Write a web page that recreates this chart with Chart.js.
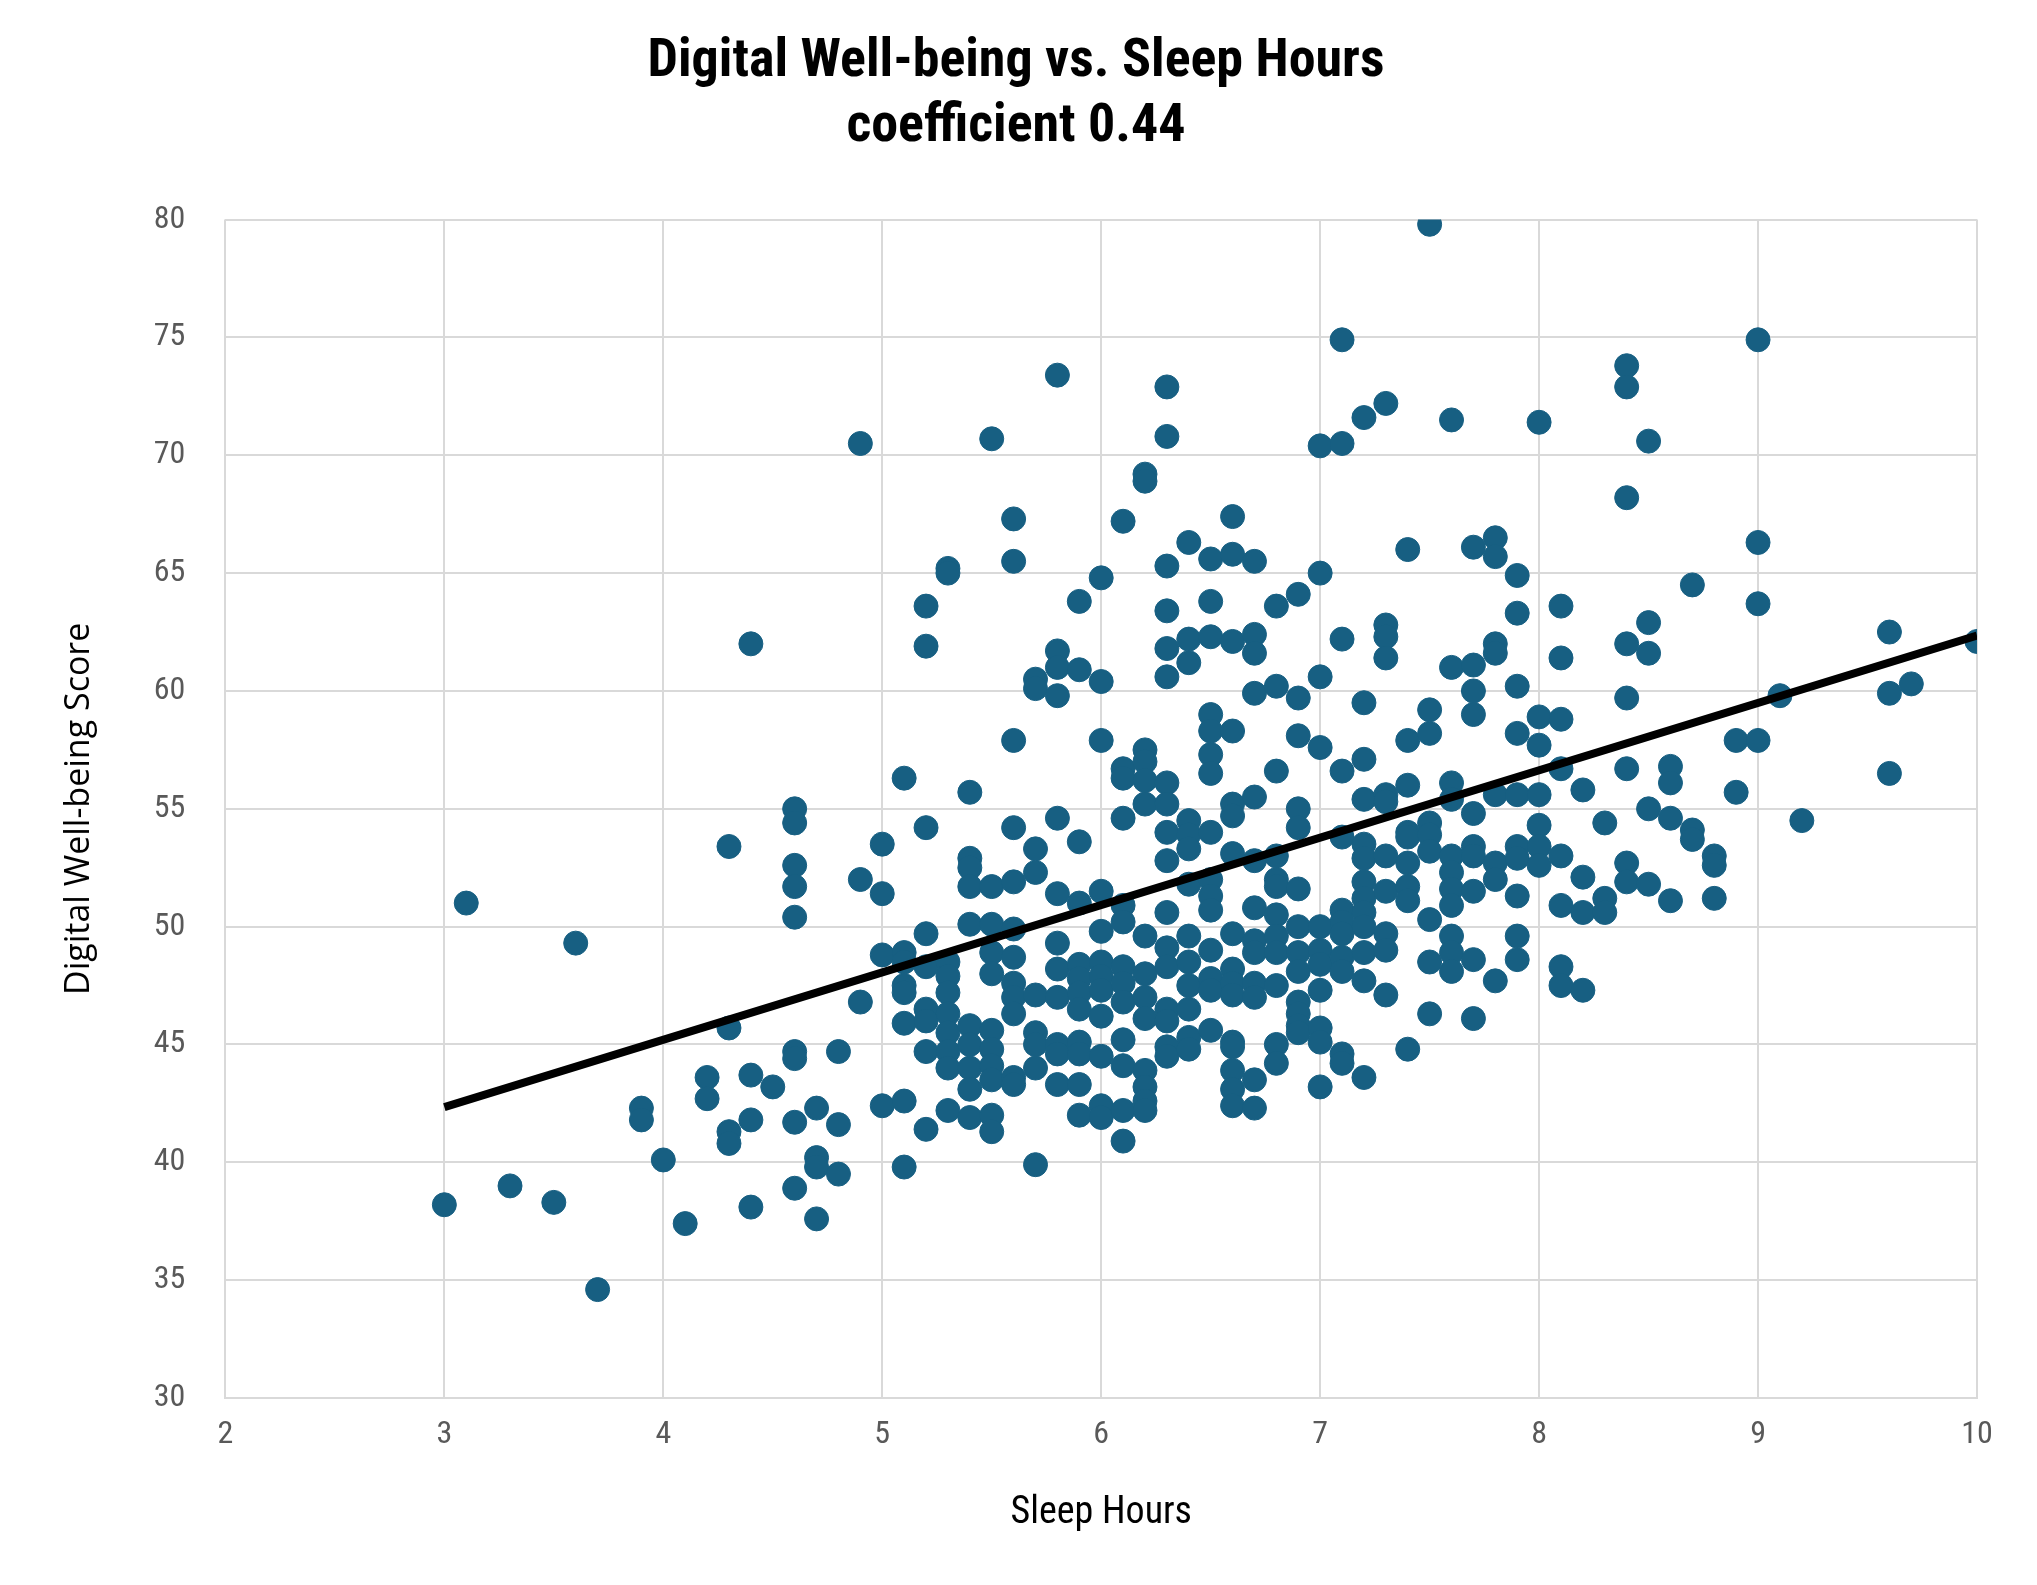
<!DOCTYPE html>
<html><head><meta charset="utf-8">
<script src="https://cdn.jsdelivr.net/npm/chart.js@4"></script>
<style>html,body{margin:0;padding:0;background:#fff}#wrap{width:2037px;height:1585px}</style>
</head><body><div id="wrap"><canvas id="c" width="2037" height="1585"></canvas></div>
<script>
const columns = {
"3.0":[38.2],"3.1":[51.0],"3.3":[39.0],"3.5":[38.3],"3.6":[49.3],"3.7":[34.6],
"3.9":[42.3,41.8],"4.0":[40.1],"4.1":[37.4],"4.2":[43.6,42.7],
"4.3":[53.4,45.7,41.3,40.8],"4.4":[62.0,43.7,41.8,38.1],"4.5":[43.2],
"4.6":[55.0,54.4,52.6,51.7,50.4,44.7,44.4,41.7,38.9],
"4.7":[42.3,40.2,39.8,37.6],"4.8":[44.7,41.6,39.5],"4.9":[70.5,52.0,46.8],
"5.0":[53.5,51.4,48.8,42.4],
"5.1":[56.3,48.9,48.5,47.5,47.2,45.9,42.6,39.8],
"5.2":[63.6,61.9,54.2,49.7,48.3,46.5,46.0,44.7,41.4],
"5.3":[65.2,65.0,48.5,47.9,47.2,46.3,45.5,44.7,44.0,42.2],
"5.4":[55.7,52.9,52.5,51.7,50.1,45.8,45.0,44.0,43.1,41.9],
"5.5":[70.7,51.7,50.1,48.9,48.0,45.6,44.8,44.1,43.5,42.0,41.3],
"5.6":[67.3,65.5,57.9,54.2,51.9,49.9,48.7,47.6,47.0,46.3,43.6,43.3],
"5.7":[60.5,60.1,53.3,52.3,47.1,45.5,45.0,44.0,39.9],
"5.8":[73.4,61.7,61.0,59.8,54.6,51.4,49.3,48.2,47.0,45.0,44.6,43.3],
"5.9":[63.8,60.9,53.6,51.0,48.4,47.8,47.2,46.5,45.1,44.6,43.3,42.0],
"6.0":[64.8,60.4,57.9,51.5,49.8,48.5,47.9,47.3,46.2,44.5,42.4,41.9],
"6.1":[67.2,56.7,56.3,54.6,50.9,50.2,48.3,47.6,46.8,45.2,44.1,42.2,40.9],
"6.2":[69.2,68.9,57.5,57.0,56.2,55.2,49.6,48.0,47.0,46.1,43.9,43.2,42.6,42.2],
"6.3":[72.9,70.8,65.3,63.4,61.8,60.6,56.1,55.2,54.0,52.8,50.6,49.1,48.3,46.5,46.0,44.9,44.5],
"6.4":[66.3,62.2,61.2,54.5,53.9,53.3,51.8,49.6,48.5,47.5,46.5,45.3,44.8],
"6.5":[65.6,63.8,62.3,59.0,58.3,57.3,56.5,54.0,52.0,51.3,50.7,49.0,47.8,47.3,45.6],
"6.6":[67.4,65.8,62.1,58.3,55.2,54.7,53.1,49.7,48.2,47.6,47.1,45.1,44.9,43.9,43.1,42.4],
"6.7":[65.5,62.4,61.6,59.9,55.5,52.8,50.8,49.4,48.9,47.6,47.0,43.5,42.3],
"6.8":[63.6,60.2,56.6,53.0,52.0,51.7,50.5,49.6,48.9,47.5,45.0,44.2],
"6.9":[64.1,59.7,58.1,55.0,54.2,51.6,50.0,48.9,48.1,46.8,46.3,45.8,45.5],
"7.0":[70.4,65.0,60.6,57.6,50.0,49.0,48.4,47.3,45.7,45.1,43.2],
"7.1":[74.9,70.5,62.2,56.6,53.8,50.7,50.2,49.7,48.7,48.1,44.6,44.2],
"7.2":[71.6,59.5,57.1,55.4,53.5,52.9,51.9,51.2,50.6,50.0,48.9,47.7,43.6],
"7.3":[72.2,62.8,62.3,61.4,55.6,55.3,53.0,51.5,49.7,49.0,47.1],
"7.4":[66.0,57.9,56.0,54.0,53.8,52.7,51.7,51.1,44.8],
"7.5":[79.8,59.2,58.2,54.4,53.9,53.2,50.3,48.5,46.3],
"7.6":[71.5,61.0,56.1,55.4,53.0,52.3,51.6,50.9,49.6,48.9,48.1],
"7.7":[66.1,61.1,60.0,59.0,54.8,53.4,53.0,51.5,48.6,46.1],
"7.8":[66.5,65.7,62.0,61.6,55.6,52.7,52.0,47.7],
"7.9":[64.9,63.3,60.2,58.2,55.6,53.4,52.9,51.3,49.6,48.6],
"8.0":[71.4,58.9,57.7,55.6,54.3,53.4,52.6],
"8.1":[63.6,61.4,58.8,56.7,53.0,50.9,48.3,47.5],
"8.2":[55.8,52.1,50.6,47.3],"8.3":[54.4,51.2,50.6],
"8.4":[73.8,72.9,68.2,62.0,59.7,56.7,52.7,51.9],
"8.5":[70.6,62.9,61.6,55.0,51.8],"8.6":[56.8,56.1,54.6,51.1],
"8.7":[64.5,54.1,53.7],"8.8":[53.0,52.6,51.2],"8.9":[57.9,55.7],
"9.0":[74.9,66.3,63.7,57.9],"9.1":[59.8],"9.2":[54.5],
"9.6":[62.5,59.9,56.5],"9.7":[60.3],"10.0":[62.1]
};
const sleepHours = [], wellbeing = [];
for (const k of Object.keys(columns)) for (const v of columns[k]) { sleepHours.push(parseFloat(k)); wellbeing.push(v); }
const xTicks = [2,3,4,5,6,7,8,9,10];
const yTicks = [30,35,40,45,50,55,60,65,70,75,80];

const n = sleepHours.length;
const mx = sleepHours.reduce((a,b)=>a+b,0)/n, my = wellbeing.reduce((a,b)=>a+b,0)/n;
let sxy=0,sxx=0; for(let i=0;i<n;i++){sxy+=(sleepHours[i]-mx)*(wellbeing[i]-my);sxx+=(sleepHours[i]-mx)**2;}
const slope=sxy/sxx, icpt=my-slope*mx;
const xMin=Math.min(...sleepHours), xMax=Math.max(...sleepHours);
const trend=[{x:xMin,y:icpt+slope*xMin},{x:xMax,y:icpt+slope*xMax}];

const font = "'Liberation Sans Narrow','Roboto Condensed','Liberation Sans',sans-serif";
new Chart(document.getElementById('c'), {
  type:'scatter',
  data:{datasets:[
    {type:'line',data:trend,borderColor:'#000',borderWidth:8,pointRadius:0,fill:false,order:0},
    {data:sleepHours.map((x,i)=>({x,y:wellbeing[i]})),backgroundColor:'#175F82',borderColor:'#175F82',pointRadius:12,pointHoverRadius:12,order:1}
  ]},
  options:{
    responsive:false,animation:false,
    layout:{padding:{left:55,right:60,top:30,bottom:45}},
    plugins:{legend:{display:false},tooltip:{enabled:false},
      title:{display:true,text:['Digital Well-being vs. Sleep Hours','coefficient 0.44'],color:'#000',
        font:{family:font,size:54,weight:'bold'},lineHeight:1.45,padding:{top:0,bottom:60}}},
    scales:{
      x:{type:'linear',min:2,max:10,afterBuildTicks:a=>{a.ticks=xTicks.map(v=>({value:v}))},
        grid:{color:'#d9d9d9',lineWidth:2,drawTicks:false},border:{color:'#d9d9d9',width:2},
        ticks:{color:'#595959',font:{family:font,size:32},padding:18},
        title:{display:true,text:'Sleep Hours',color:'#000',font:{family:font,size:38},padding:{top:18}}},
      y:{min:30,max:80,afterBuildTicks:a=>{a.ticks=yTicks.map(v=>({value:v}))},
        grid:{color:'#d9d9d9',lineWidth:2,drawTicks:false},border:{display:false},
        ticks:{color:'#595959',font:{family:font,size:32},padding:40},
        title:{display:true,text:'Digital Well-being Score',color:'#000',font:{family:"'Open Sans',sans-serif",size:34},padding:{bottom:14}}}
    }
  }
});
</script></body></html>
